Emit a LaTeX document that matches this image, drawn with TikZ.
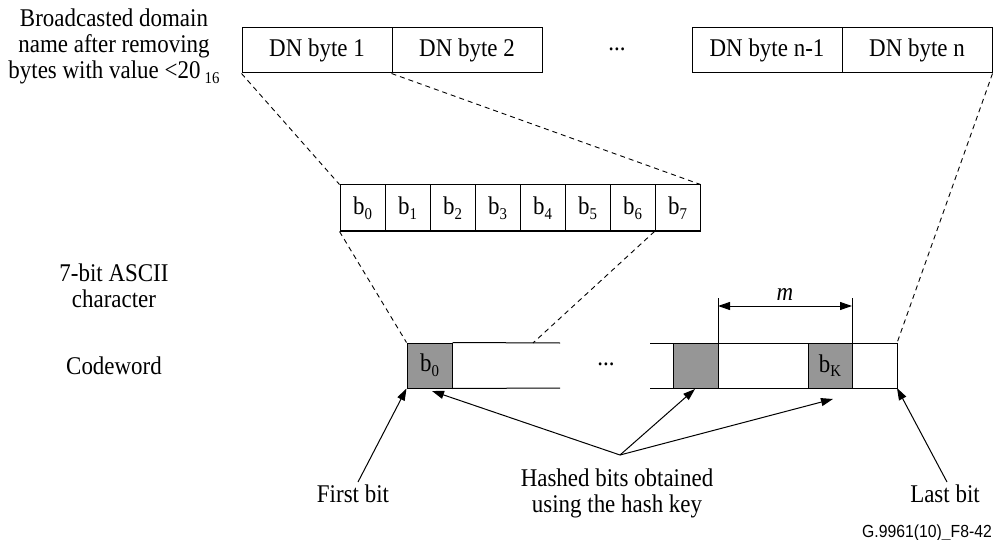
\documentclass[tikz,border=0pt]{standalone}
\usepackage{fontspec}
\setmainfont[FakeStretch=0.9]{Liberation Serif}
\newfontfamily\sansf[FakeStretch=0.9]{Liberation Sans}
\usetikzlibrary{arrows.meta}
\definecolor{hashgray}{RGB}{150,150,150}
\newcommand\bsub[1]{b\raisebox{-0.4ex}{\fontsize{16.5}{16.5}\selectfont #1}}
\begin{document}
\begin{tikzpicture}[x=1pt,y=-1pt,
  every node/.style={inner sep=0pt},
  lbl/.style={font=\fontsize{25.5}{26}\selectfont, align=center},
  dnbox/.style={draw, line width=1pt, minimum width=150pt, minimum height=45pt, font=\fontsize{25.5}{26}\selectfont},
  bitbox/.style={draw, line width=1pt, minimum width=45pt, minimum height=46pt, font=\fontsize{25.5}{26}\selectfont},
  hbox/.style={draw, line width=1pt, fill=hashgray, minimum height=45pt, font=\fontsize{25.5}{26}\selectfont},
  dashln/.style={dash pattern=on 5pt off 4pt, line width=0.9pt},
  solidln/.style={line width=1pt},
  arr/.style={-{Triangle[length=12pt,width=8pt]}, line width=1pt},
  dimarr/.style={{Triangle[length=12pt,width=8pt]}-{Triangle[length=12pt,width=8pt]}, line width=1pt}
]
\useasboundingbox (0,0) rectangle (993,540);

% left labels
\node[lbl] (lab1) at (114,46) {Broadcasted domain\\name after removing\\bytes with value {<}20\,\raisebox{-0.45ex}{\fontsize{16.5}{16.5}\selectfont 16}};
\node[lbl] (lab2) at (114,286) {7-bit ASCII\\character};
\node[lbl] (lab3) at (114,366) {Codeword};

% top DN bytes
\node[dnbox] (dn1) at (317,50.5) {DN byte 1};
\node[dnbox] (dn2) at (467,50.5) {DN byte 2};
\node[lbl] (dots1) at (617,49) {...};
\node[dnbox] (dnm) at (767,50.5) {DN byte n-1};
\node[dnbox] (dnn) at (917,50.5) {DN byte n};

% bit cells
\foreach \i in {0,...,7} {
  \node[bitbox] (c\i) at ({362.5+45*\i},208) {\bsub{\i}};
}

% codeword
\coordinate (cwLtop) at (560,343);
\coordinate (cwLbot) at (560,388);
\coordinate (cwRtop) at (650,343);
\coordinate (cwRbot) at (650,388);
\coordinate (cwEtop) at (897,343);
\coordinate (cwEbot) at (897,388);
\coordinate (c7end) at (533,343);

\node[hbox, minimum width=45pt] (b0) at (429.5,365.5) {\bsub{0}};
\draw[solidln] (b0.north east) -- (cwLtop);
\draw[solidln] (b0.south east) -- (cwLbot);
\node[lbl] (dots2) at (606,364) {...};
\draw[solidln] (cwRtop) -- (cwEtop) -- (cwEbot) -- (cwRbot);
\node[hbox, minimum width=45pt] (g1) at (695.5,365.5) {};
\node[hbox, minimum width=44pt] (bK) at (830,365.5) {\bsub{K}};

% dimension m
\coordinate (mL) at (718,306);
\coordinate (mR) at (852,306);
\draw[solidln] (g1.north east) -- ++(0,-45);
\draw[solidln] (bK.north east) -- ++(0,-45);
\draw[dimarr] (mL) -- (mR);
\node[font=\fontsize{25.5}{26}\selectfont\itshape] (mlab) at (785,294) {m};

% dashed connectors
\draw[dashln] (dn1.south west) -- (c0.north west);
\draw[dashln] (dn2.south west) -- (c7.north east);
\draw[dashln] (c0.south west) -- (b0.north west);
\draw[dashln] (c7.south west) -- (c7end);
\draw[dashln] (dnn.south east) -- (cwEtop);

% bottom labels
\node[lbl] (first) at (353,494) {First bit};
\node[lbl] (hashed) at (617,493) {Hashed bits obtained\\using the hash key};
\node[lbl] (last) at (945,494) {Last bit};
\node[font=\sansf\fontsize{17.5}{18}\selectfont, anchor=east] (fig) at (992,533) {G.9961(10)\_F8-42};

% arrows
\coordinate (fbt) at (358,482);
\coordinate (lbt) at (947,482);
\coordinate (hj) at (620,455);
\coordinate (h0) at (432,391);
\coordinate (h1) at (695,389);
\coordinate (h2) at (833,399);
\draw[arr] (fbt) -- (b0.south west);
\draw[arr] (lbt) -- (cwEbot);
\draw[arr] (hj) -- (h0);
\draw[arr] (hj) -- (h1);
\draw[arr] (hj) -- (h2);
\end{tikzpicture}
\end{document}
